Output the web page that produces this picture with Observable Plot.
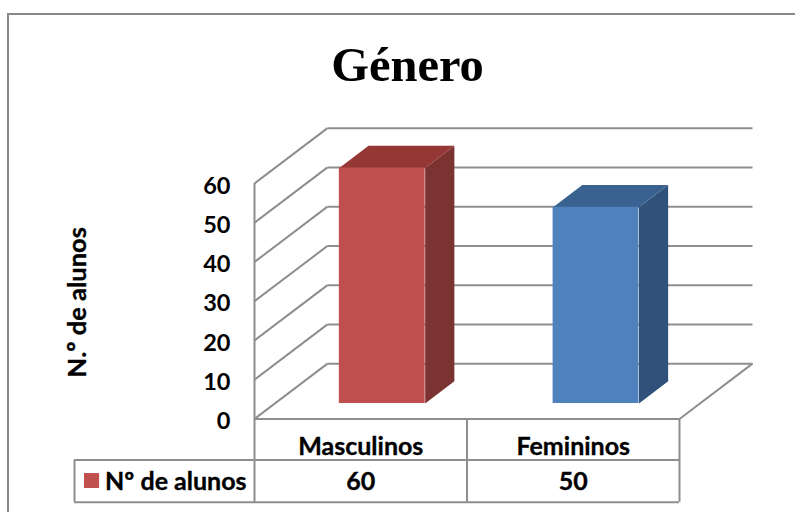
<!DOCTYPE html>
<html lang="pt">
<head>
<meta charset="utf-8">
<title>Género</title>
<style>
  html, body { margin: 0; padding: 0; background: #fff; }
  #chart { position: relative; width: 795px; height: 512px; overflow: hidden; }
  #outline { position: absolute; left: 7px; top: 13px; width: 800px; height: 520px;
             border-left: 2px solid #8a8a8a; border-top: 2px solid #8a8a8a; }
  #chart svg { position: absolute; left: 0; top: 0; background: transparent; }
</style>
<script src="https://cdn.jsdelivr.net/npm/d3@7"></script>
<script src="https://cdn.jsdelivr.net/npm/@observablehq/plot@0.6"></script>
</head>
<body>
<div id="chart"><div id="outline"></div></div>
<script>
// Gender breakdown of students, drawn as an oblique 3D column chart with a data table.
const categories = ["Masculinos", "Femininos"];
const students = [60, 50];
const yTicks = [0, 10, 20, 30, 40, 50, 60];
const seriesName = "Nº de alunos";
const axisTitle = "N.º de alunos";
const chartTitle = "Género";

const frontColors = ["#c0504d", "#4f81bd"];
const sideColors = ["#7a3331", "#30527a"];
const topColors = ["#953735", "#3a6290"];
const gridColor = "#8e8e8e";
const textFont = "Lato";

// Oblique projection: a point at depth d (0 front, 1 back) shifts right and up.
const depthX = 0.3435;   // in category units
const depthY = 14.1;     // in value units
const project = (c, v, d) => ({x: c + d * depthX, y: v + d * depthY});

// Bars occupy the middle slab of the floor's depth.
const barHalf = 0.202;
const barNear = 0.28;
const barFar = 0.68;
const barCentre = i => i * 1.006 + 0.505;

const polygon = (i, corners) => corners.map(([c, v, d]) => ({i, ...project(c, v, d)}));

const topFaces = students.flatMap((v, i) => {
  const l = barCentre(i) - barHalf, r = barCentre(i) + barHalf;
  return polygon(i, [[l, v, barNear], [r, v, barNear], [r, v, barFar], [l, v, barFar]]);
});
const sideFaces = students.flatMap((v, i) => {
  const r = barCentre(i) + barHalf;
  return polygon(i, [[r, 0, barNear], [r, v, barNear], [r, v, barFar], [r, 0, barFar]]);
});
const frontFaces = students.map((v, i) => ({
  i,
  x1: project(barCentre(i) - barHalf, 0, barNear).x,
  x2: project(barCentre(i) + barHalf, 0, barNear).x,
  y1: project(0, 0, barNear).y,
  y2: project(0, v, barNear).y
}));

// Side wall and back wall gridlines, plus the floor outline.
const wallLines = yTicks.flatMap(v => [
  {x1: 0, y1: v, x2: depthX, y2: v + depthY},
  {x1: depthX, y1: v + depthY, x2: 2 + depthX, y2: v + depthY}
]);
const floorEdge = [{x1: 2, y1: 0, x2: 2 + depthX, y2: depthY}];

// Data table below the plot, with rows measured in value units under the baseline.
const rowMid = -10.45;
const rowBottom = -21.2;
const tableLeft = -0.847;
const tableH = [
  {x1: 0, x2: 2, y: 0},
  {x1: tableLeft, x2: 2, y: rowMid},
  {x1: tableLeft, x2: 2, y: rowBottom}
];
const tableV = [
  {x: tableLeft, y1: rowMid, y2: rowBottom},
  {x: 0, y1: 60, y2: rowBottom},
  {x: 1, y1: 0, y2: rowBottom},
  {x: 2, y1: 0, y2: rowBottom}
];
const swatch = [{x1: -0.8, x2: -0.729, y1: -13.9, y2: -17.7}];

// Slight outline thickens the bold face to the weight of the labels.
const textStyle = {fontFamily: textFont, fontWeight: 700, fill: "#000", stroke: "#000", strokeWidth: 0.35};

const plot = Plot.plot({
  width: 795,
  height: 512,
  marginLeft: 254,
  marginRight: 116,
  marginTop: 183,
  marginBottom: 93.5,
  style: {background: "transparent", overflow: "visible"},
  x: {domain: [0, 2], axis: null},
  y: {domain: [0, 60], axis: null},
  marks: [
    Plot.link(wallLines, {x1: "x1", y1: "y1", x2: "x2", y2: "y2", stroke: gridColor, strokeWidth: 2}),
    Plot.link(floorEdge, {x1: "x1", y1: "y1", x2: "x2", y2: "y2", stroke: gridColor, strokeWidth: 2}),
    Plot.ruleX(tableV, {x: "x", y1: "y1", y2: "y2", stroke: gridColor, strokeWidth: 2}),
    Plot.ruleY(tableH, {y: "y", x1: "x1", x2: "x2", stroke: gridColor, strokeWidth: 2}),

    Plot.line(sideFaces, {x: "x", y: "y", z: "i", fill: d => sideColors[d.i], stroke: null, curve: "linear"}),
    Plot.line(topFaces, {x: "x", y: "y", z: "i", fill: d => topColors[d.i], stroke: null, curve: "linear"}),
    Plot.rect(frontFaces, {x1: "x1", x2: "x2", y1: "y1", y2: "y2", fill: d => frontColors[d.i]}),

    Plot.axisY(yTicks, {
      anchor: "left", tickSize: 0, tickPadding: 24, label: null,
      dy: 2.5, fontSize: 23.5, ...textStyle
    }),

    // Rotated axis title
    Plot.text([axisTitle], {
      x: [tableLeft], y: [30], text: d => d, rotate: -90,
      dx: 3.5, dy: 1, fontSize: 25.5, ...textStyle
    }),

    // Table text
    Plot.text(categories, {
      x: (d, i) => i + 0.5, y: [-6.85, -6.85], dy: 1, text: d => d, fontSize: 25, ...textStyle
    }),
    Plot.text(students, {
      x: (d, i) => i + 0.5, y: [-15.9, -15.9], dy: 1, text: d => String(d), fontSize: 25, ...textStyle
    }),
    Plot.rect(swatch, {x1: "x1", x2: "x2", y1: "y1", y2: "y2", fill: frontColors[0]}),
    Plot.text([seriesName], {
      x: [-0.0375], y: [-15.9], dy: 1, text: d => d, textAnchor: "end", fontSize: 25, ...textStyle
    }),

    // Chart title
    Plot.text([chartTitle], {
      x: [0.72], y: [60], text: d => d, dy: -118,
      fontFamily: "Liberation Serif", fontWeight: 700, fontSize: 48.5, fill: "#000"
    })
  ]
});

document.getElementById("chart").appendChild(plot);
</script>
</body>
</html>
